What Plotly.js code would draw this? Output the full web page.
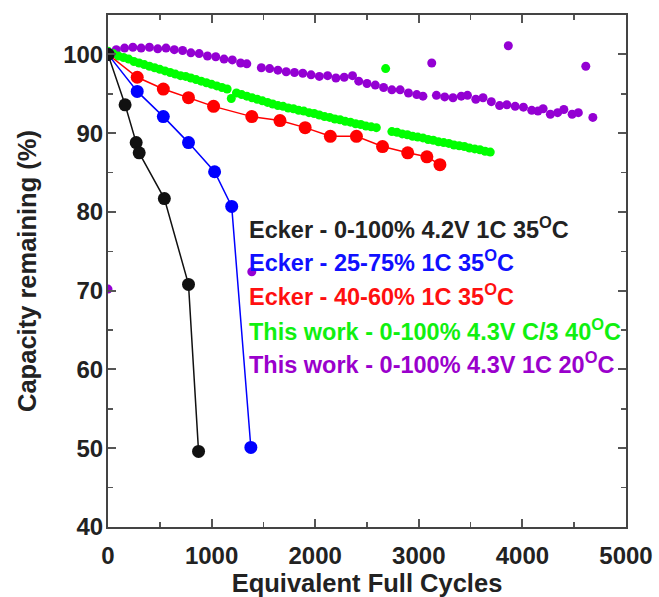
<!DOCTYPE html>
<html>
<head>
<meta charset="utf-8">
<script src="https://cdn.plot.ly/plotly-3.0.1.min.js"></script>
<style>html,body{margin:0;padding:0;background:#fff;}#chart{width:659px;height:597px;}</style>
</head>
<body>
<div id="chart"></div>
<script>
// Ecker - 0-100% 4.2V 1C 35C (black)
const blackX = [0, 165, 272, 301, 544, 777, 874];
const blackY = [100, 93.6, 88.8, 87.5, 81.7, 70.8, 49.6];
// Ecker - 25-75% 1C 35C (blue)
const blueX = [0, 282, 534, 777, 1029, 1194, 1379];
const blueY = [100, 95.3, 92.1, 88.8, 85.1, 80.7, 50.1];
// Ecker - 40-60% 1C 35C (red)
const redX = [0, 282, 534, 777, 1019, 1388, 1660, 1903, 2146, 2398, 2650, 2893, 3078, 3204];
const redY = [100, 97.1, 95.6, 94.5, 93.4, 92.1, 91.6, 90.7, 89.6, 89.6, 88.3, 87.5, 87.0, 86.0];
// This work - 0-100% 4.3V C/3 40C (green)
const greenX = [0, 50, 100, 150, 200, 250, 300, 350, 400, 450, 500, 550, 600, 650, 700, 750, 800, 850, 900, 950, 1000, 1050, 1100, 1150,
  1190,
  1240, 1290, 1340, 1390, 1440, 1490, 1540, 1590, 1640, 1690, 1740, 1790, 1840, 1890, 1940, 1990, 2040, 2090, 2140, 2190, 2240, 2290, 2340, 2390, 2440, 2490, 2540, 2590,
  2680,
  2740, 2790, 2840, 2890, 2940, 2990, 3040, 3090, 3140, 3190, 3240, 3290, 3340, 3390, 3440, 3490, 3540, 3590, 3640, 3690];
const greenY = [100.4, 100.1, 99.8, 99.6, 99.4, 99.1, 98.9, 98.7, 98.5, 98.3, 98.1, 97.9, 97.7, 97.5, 97.3, 97.2, 97.0, 96.8, 96.6, 96.4, 96.2, 96.0, 95.8, 95.6,
  94.4,
  95.1, 94.9, 94.7, 94.5, 94.3, 94.1, 93.9, 93.7, 93.5, 93.4, 93.2, 93.1, 92.9, 92.8, 92.6, 92.5, 92.3, 92.1, 92.0, 91.8, 91.7, 91.5, 91.4, 91.2, 91.1, 90.9, 90.8, 90.7,
  98.2,
  90.2, 90.1, 89.9, 89.8, 89.6, 89.5, 89.4, 89.2, 89.1, 88.9, 88.8, 88.7, 88.5, 88.4, 88.3, 88.1, 88.0, 87.9, 87.7, 87.6];
// This work - 0-100% 4.3V 1C 20C (purple)
const purpleX = [0, 0, 80, 160, 240, 320, 400, 480, 560, 640, 720, 800, 880, 960, 1040, 1120, 1200, 1280, 1340,
  1388,
  1480, 1560, 1640, 1720, 1800, 1880, 1960, 2040, 2120, 2200, 2280, 2360, 2420, 2500, 2580, 2660, 2740, 2820, 2900, 2980, 3040,
  3125,
  3170, 3250, 3330, 3410, 3470, 3550, 3620, 3700, 3780, 3850, 3864, 3930, 4010, 4090, 4150, 4200, 4270, 4340, 4400, 4480, 4540, 4612, 4680];
const purpleY = [70.2, 100.2, 100.6, 100.8, 100.9, 100.8, 100.9, 100.7, 100.8, 100.6, 100.5, 100.2, 100.1, 99.8, 99.7, 99.4, 99.3, 98.9, 98.8,
  72.4,
  98.3, 98.2, 98.0, 97.8, 97.7, 97.6, 97.4, 97.2, 97.3, 97.0, 97.1, 97.3, 96.6, 96.3, 96.1, 95.8, 95.5, 95.5, 95.1, 94.9, 94.7,
  98.9,
  94.8, 94.6, 94.5, 94.7, 94.8, 94.3, 94.5, 94.0, 93.5, 93.6, 101.1, 93.4, 93.3, 92.9, 92.8, 93.1, 92.4, 92.6, 93.0, 92.4, 92.6, 98.5, 92.0];

const legendTexts = [
  'Ecker - 0-100% 4.2V 1C 35<sup>O</sup>C',
  'Ecker - 25-75% 1C 35<sup>O</sup>C',
  'Ecker - 40-60% 1C 35<sup>O</sup>C',
  'This work - 0-100% 4.3V C/3 40<sup>O</sup>C',
  'This work - 0-100% 4.3V 1C 20<sup>O</sup>C'
];
const legendColors = ['#222222', '#1010ff', '#ff1010', '#10f010', '#9a00cc'];
const legendY = [78.0, 73.8, 69.4, 65.0, 60.8];
const legendX = 1340;

const font = 'Liberation Sans, Arial, sans-serif';
const traces = [
  {x: purpleX, y: purpleY, mode: 'markers', type: 'scatter', marker: {color: '#9400d3', size: 9}},
  {x: greenX, y: greenY, mode: 'markers', type: 'scatter', marker: {color: '#00ff00', size: 9}},
  {x: redX, y: redY, mode: 'lines+markers', type: 'scatter', line: {color: '#ff0000', width: 1.5}, marker: {color: '#ff0000', size: 13}},
  {x: blueX, y: blueY, mode: 'lines+markers', type: 'scatter', line: {color: '#0000ff', width: 1.5}, marker: {color: '#0000ff', size: 13}},
  {x: blackX, y: blackY, mode: 'lines+markers', type: 'scatter', line: {color: '#111111', width: 1.5}, marker: {color: '#111111', size: 13}}
];

const annotations = legendTexts.map((t, i) => ({
  x: legendX, y: legendY[i], xref: 'x', yref: 'y', text: '<b>' + t + '</b>',
  showarrow: false, xanchor: 'left', yanchor: 'middle',
  font: {family: font, size: 23.5, color: legendColors[i]}
}));

const axisCommon = {
  showline: true, linecolor: '#444', linewidth: 2, mirror: 'ticks',
  ticks: 'inside', ticklen: 8, tickwidth: 2, tickcolor: '#555',
  showgrid: false, zeroline: false
};

const layout = {
  width: 659, height: 597,
  margin: {l: 108, r: 33, t: 15, b: 70},
  paper_bgcolor: '#fff', plot_bgcolor: '#fff',
  showlegend: false,
  font: {family: font},
  xaxis: Object.assign({}, axisCommon, {
    range: [0, 5000], dtick: 1000, tick0: 0,
    ticklabelstandoff: 6,
    tickfont: {family: font, size: 24, color: '#222', weight: 'bold'},
    minor: {dtick: 500, ticks: 'inside', ticklen: 5, tickwidth: 1.5, tickcolor: '#555'},
    title: {text: '<b>Equivalent Full Cycles</b>', font: {family: font, size: 25.5, color: '#222'}, standoff: 0}
  }),
  yaxis: Object.assign({}, axisCommon, {
    range: [40, 105], tickvals: [40, 50, 60, 70, 80, 90, 100],
    ticklabelstandoff: -2,
    tickfont: {family: font, size: 24, color: '#222', weight: 'bold'},
    minor: {tickvals: [45, 55, 65, 75, 85, 95], ticks: 'inside', ticklen: 5, tickwidth: 1.5, tickcolor: '#555'},
    title: {text: '<b>Capacity remaining (%)</b>', font: {family: font, size: 25.5, color: '#222'}, standoff: 19}
  }),
  annotations: annotations
};

Plotly.newPlot('chart', traces, layout, {displayModeBar: false, staticPlot: true});
</script>
</body>
</html>
